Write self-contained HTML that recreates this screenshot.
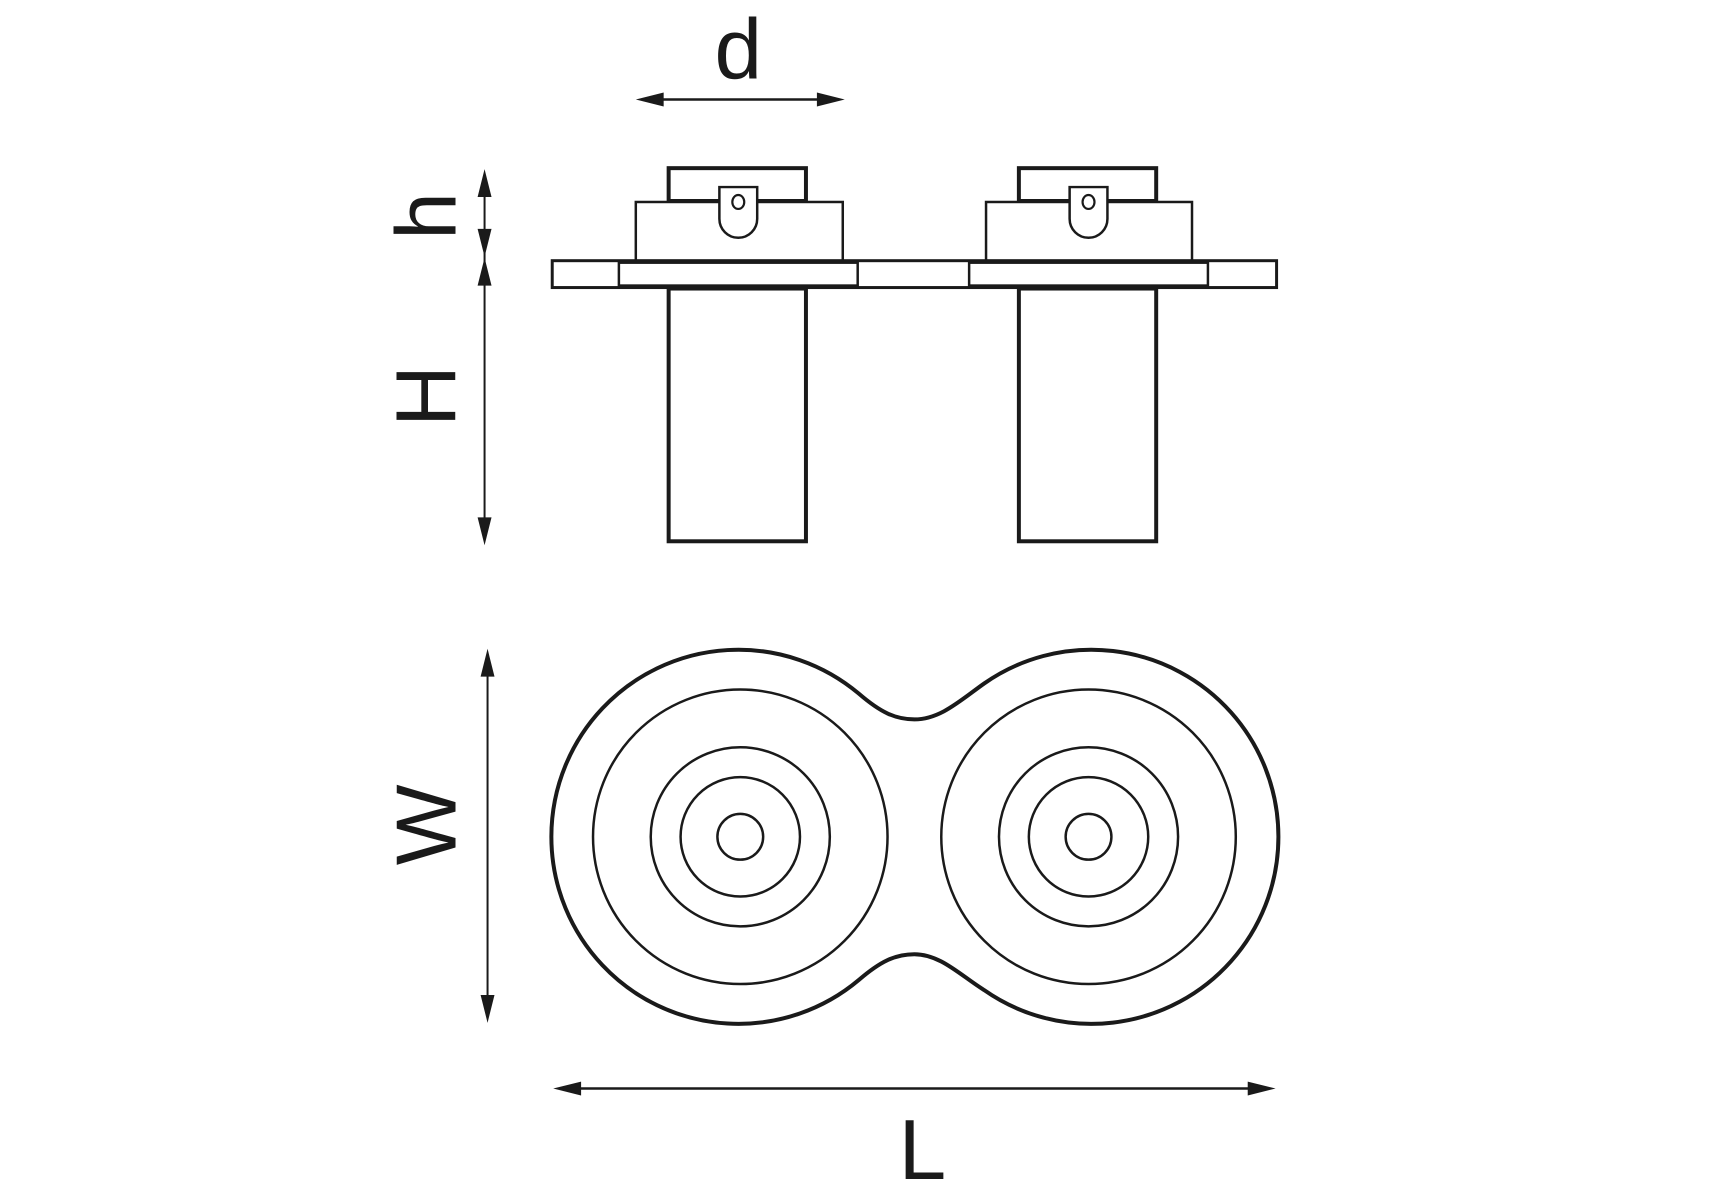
<!DOCTYPE html>
<html><head><meta charset="utf-8"><style>html,body{margin:0;padding:0;background:#fff}svg{display:block}</style></head>
<body>
<svg width="1715" height="1200" viewBox="0 0 1715 1200" xmlns="http://www.w3.org/2000/svg">
<g transform="scale(0.995)">
<g fill="none" stroke="#1a1a1a">
<line x1="660" y1="100" x2="828" y2="100" stroke-width="2.5"/>
<rect x="672" y="169" width="138" height="33" stroke-width="4"/>
<rect x="639" y="203" width="208" height="59" stroke-width="2.5" fill="#fff"/>
<path d="M723,188 H761 V220 A19,19 0 0 1 723,220 Z" stroke-width="2.5" fill="#fff"/>
<ellipse cx="742" cy="203" rx="6" ry="7" stroke-width="2.2"/>
<rect x="1024" y="169" width="138" height="33" stroke-width="4"/>
<rect x="991" y="203" width="207" height="59" stroke-width="2.5" fill="#fff"/>
<path d="M1075,188 H1113 V220 A19,19 0 0 1 1075,220 Z" stroke-width="2.5" fill="#fff"/>
<ellipse cx="1094" cy="203" rx="6" ry="7" stroke-width="2.2"/>
<rect x="555" y="262" width="728" height="27" stroke-width="3"/>
<rect x="622" y="264" width="240" height="23" stroke-width="2.5"/>
<rect x="974" y="264" width="240" height="23" stroke-width="2.5"/>
<rect x="672" y="290" width="138" height="254" stroke-width="4"/>
<rect x="1024" y="290" width="138" height="254" stroke-width="4"/>
<line x1="487" y1="185" x2="487" y2="535" stroke-width="2"/>
<line x1="490" y1="665" x2="490" y2="1015" stroke-width="2"/>
<line x1="580" y1="1094" x2="1258" y2="1094" stroke-width="2.5"/>
<path d="M863,697 A188,188 0 1 0 863,985 C885,966 900,959 919,959 C945,959 965,980 989,995 A188,188 0 1 0 989,687 C965,704 945,723 919,723 C900,723 885,716 863,697 Z" stroke-width="4"/>
<g stroke-width="2.5">
<circle cx="744" cy="841" r="148"/><circle cx="744" cy="841" r="90"/><circle cx="744" cy="841" r="60"/><circle cx="744" cy="841" r="23"/>
<circle cx="1094" cy="841" r="148"/><circle cx="1094" cy="841" r="90"/><circle cx="1094" cy="841" r="60"/><circle cx="1094" cy="841" r="23"/>
</g>
</g>
<g fill="#1a1a1a">
<polygon points="639,100 667,93 667,107"/><polygon points="849,100 821,93 821,107"/>
<polygon points="487,170 480,198 494,198"/><polygon points="487,258 480,230 494,230"/>
<polygon points="487,259 480,287 494,287"/><polygon points="487,548 480,520 494,520"/>
<polygon points="490,652 483,680 497,680"/><polygon points="490,1028 483,1000 497,1000"/>
<polygon points="556,1094 584,1087 584,1101"/><polygon points="1282,1094 1254,1087 1254,1101"/>
</g>
<g font-family="Liberation Sans, sans-serif" fill="#1a1a1a" font-size="86">
<text x="742" y="79" text-anchor="middle">d</text>
<text x="927" y="1185" text-anchor="middle">L</text>
<text transform="translate(458,217) rotate(-90)" text-anchor="middle">h</text>
<text transform="translate(458,398) rotate(-90)" text-anchor="middle">H</text>
<text transform="translate(458,829) rotate(-90)" text-anchor="middle">W</text>
</g>
</g>
</svg>
</body></html>
